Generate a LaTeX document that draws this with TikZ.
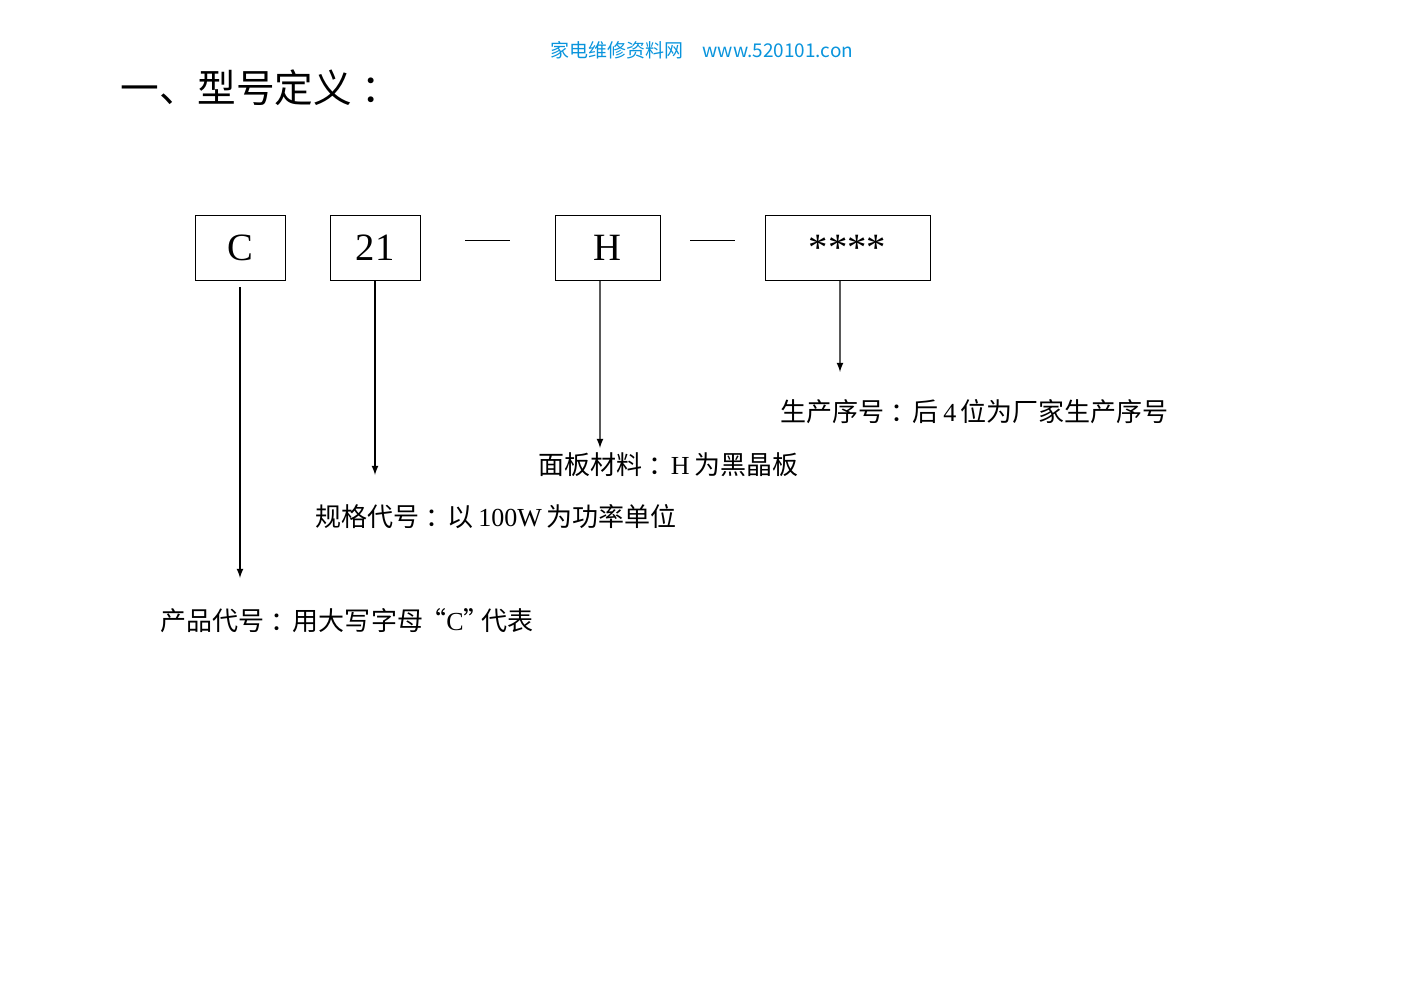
\documentclass[tikz,border=0pt]{standalone}
\usepackage{fontspec}
\setmainfont{Liberation Serif}
\newfontfamily\cjk{Noto Sans CJK SC}
\usetikzlibrary{positioning}
\tikzstyle{codeBox} = [rectangle, draw=black, inner sep=0pt, font=\fontsize{22}{24}\selectfont]
\tikzstyle{descNode} = [anchor=west, inner sep=0pt, font=\fontsize{14.8}{16}\selectfont]
\tikzstyle{arrow} = [thick,-latex]
\newcommand{\colonsp}{\hspace{0.25em}：\hspace{-0.15em}}
\begin{document}
\begin{tikzpicture}[x=0.02cm,y=-0.02cm]
    \useasboundingbox (0,0) rectangle (1404,993);
    \node (site) at (702,50) [text=cyan!80!blue, font=\fontsize{10.8}{13}\selectfont\cjk] {家电维修资料网\quad www.520101.con};
    \node (title) at (120,88) [anchor=west, inner sep=0pt, font=\fontsize{22}{24}\selectfont\cjk] {一、型号定义\colonsp};

    \node (C)[codeBox, minimum width=1.8cm, minimum height=1.3cm] at (240,247.5) {C};
    \node (size)[codeBox, minimum width=1.8cm, minimum height=1.3cm] at (375,247.5) {21};
    \node (panel)[codeBox, minimum width=2.1cm, minimum height=1.3cm] at (607.5,247.5) {H};
    \node (serial)[codeBox, minimum width=3.3cm, minimum height=1.3cm] at (847.5,247.5) {****};
    \draw (465,240) -- (510,240);
    \draw (690,240) -- (735,240);

    \coordinate (Cend) at (240,578);
    \coordinate (sizeend) at (375,475);
    \coordinate (panelend) at (600,448);
    \coordinate (serialend) at (840,372);

    \node (serialtxt)[descNode] at (780,412) {\cjk 生产序号\colonsp 后\,\rmfamily 4\,\cjk 位为厂家生产序号};
    \node (paneltxt)[descNode] at (538,465) {\cjk 面板材料\colonsp\rmfamily H\,\cjk 为黑晶板};
    \node (sizetxt)[descNode] at (315,517) {\cjk 规格代号\colonsp 以\,\rmfamily 100W\,\cjk 为功率单位};
    \node (Ctxt)[descNode] at (160,621) {\cjk 产品代号\colonsp 用大写字母\hspace{-0.1em}“\rmfamily C\cjk ”\hspace{-0.3em}代表};

    \draw [arrow] ([yshift=-0.14cm]C.south) -- (Cend);
    \draw [arrow] (size.south) -- (sizeend);
    \draw [arrow] ([xshift=-0.15cm]panel.south) -- (panelend);
    \draw [arrow] ([xshift=-0.15cm]serial.south) -- (serialend);
\end{tikzpicture}
\end{document}
